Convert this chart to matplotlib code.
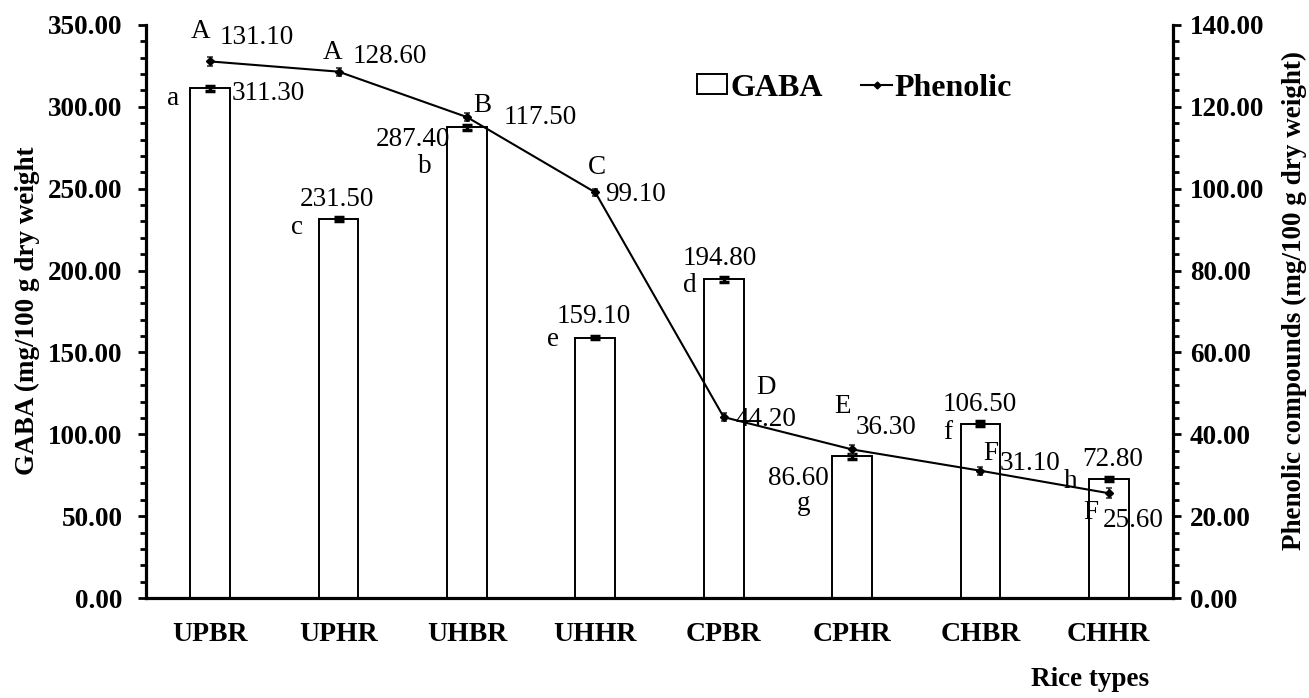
import matplotlib
matplotlib.use("Agg")
import matplotlib.pyplot as plt
from matplotlib.ticker import MultipleLocator, FormatStrFormatter
from matplotlib.patches import Patch
from matplotlib.lines import Line2D

plt.rcParams['font.family'] = ['Liberation Serif', 'DejaVu Serif']

# Data
rice_types = ["UPBR", "UPHR", "UHBR", "UHHR", "CPBR", "CPHR", "CHBR", "CHHR"]
gaba = [311.30, 231.50, 287.40, 159.10, 194.80, 86.60, 106.50, 72.80]
gaba_err = [1.5, 1.5, 1.5, 1.2, 1.5, 1.5, 1.5, 1.2]
gaba_letters = ["a", "c", "b", "e", "d", "g", "f", "h"]
phenolic = [131.10, 128.60, 117.50, 99.10, 44.20, 36.30, 31.10, 25.60]
phenolic_err = [1.0, 1.0, 1.0, 0.8, 1.0, 1.2, 1.0, 1.2]
phenolic_letters = ["A", "A", "B", "C", "D", "E", "F", "F"]

# Label placement (pixel offsets from each mark)
gaba_val_off = [(58, -5), (-2, 20), (-54, -12), (-2, 21), (-4, 21), (-54, -22), (-1, 19), (4, 19)]
gaba_let_off = [(-37, -10), (-42, -8), (-42, -39), (-42, -2), (-34, -6), (-48, -47), (-33, -9), (-38, -3)]
phen_let_off = [(-10, 30), (-6, 19), (15, 12), (2, 25), (42, 30), (-10, 43), (10, 17), (-18, -19)]
phen_val_off = [(47, 24), (51, 15), (73, 0), (40, -2), (42, -2), (34, 22), (50, 7), (24, -27)]

W, H = 1309, 698
fig = plt.figure(figsize=(W / 100, H / 100), dpi=100)
ax = fig.add_axes([146 / W, 1 - 598 / H, (1173 - 146) / W, (598 - 25) / H])
ax2 = ax.twinx()

x = list(range(len(rice_types)))

# GABA bars
ax.bar(x, gaba, width=0.31, color="white", edgecolor="black", linewidth=1.4, zorder=2)
ax.errorbar(x, gaba, yerr=gaba_err, fmt="none", ecolor="black", elinewidth=2.5,
            capsize=3.5, capthick=2.5, zorder=3)

# Phenolic line
ax2.errorbar(x, phenolic, yerr=phenolic_err, fmt="-", color="black", linewidth=1.5,
             marker="D", markersize=4, ecolor="#333333", elinewidth=1.2, capsize=2.5,
             capthick=1.2, zorder=4)

ax.set_xlim(-0.5, len(x) - 0.5)
ax.set_ylim(0, 350)
ax2.set_ylim(0, 140)

ax.yaxis.set_major_locator(MultipleLocator(50))
ax.yaxis.set_minor_locator(MultipleLocator(10))
ax2.yaxis.set_major_locator(MultipleLocator(20))
ax2.yaxis.set_minor_locator(MultipleLocator(4))
ax.yaxis.set_major_formatter(FormatStrFormatter("%.2f"))
ax2.yaxis.set_major_formatter(FormatStrFormatter("%.2f"))

for a in (ax, ax2):
    a.spines["top"].set_visible(False)
    for s in ("left", "right", "bottom"):
        a.spines[s].set_linewidth(2.3)

ax.spines["right"].set_visible(False)
ax2.spines["left"].set_visible(False)
ax2.spines["bottom"].set_visible(False)

ax.tick_params(axis="y", which="major", direction="out", length=6, width=2, pad=11,
               labelsize=19.5)
ax.tick_params(axis="y", which="minor", direction="out", length=4.5, width=2)
ax2.tick_params(axis="y", which="major", direction="out", length=6, width=2, pad=6,
                labelsize=19.5)
ax2.tick_params(axis="y", which="minor", direction="out", length=4.5, width=2)
for lab in ax.get_yticklabels() + ax2.get_yticklabels():
    lab.set_fontweight("bold")

ax.set_xticks(x)
ax.set_xticklabels(rice_types, fontsize=20, fontweight="bold")
ax.tick_params(axis="x", length=0, pad=17)

# Value and significance labels
for i in x:
    ax.annotate(f"{gaba[i]:.2f}", (i, gaba[i]), xytext=gaba_val_off[i],
                textcoords="offset pixels", ha="center", va="center", fontsize=19.5, zorder=5)
    ax.annotate(gaba_letters[i], (i, gaba[i]), xytext=gaba_let_off[i],
                textcoords="offset pixels", ha="center", va="center", fontsize=19.5, zorder=5)
    ax2.annotate(phenolic_letters[i], (i, phenolic[i]), xytext=phen_let_off[i],
                 textcoords="offset pixels", ha="center", va="center", fontsize=19.5, zorder=5)
    ax2.annotate(f"{phenolic[i]:.2f}", (i, phenolic[i]), xytext=phen_val_off[i],
                 textcoords="offset pixels", ha="center", va="center", fontsize=19.5, zorder=5)

# Axis titles
fig.text(27 / W, 1 - 311 / H, "GABA (mg/100 g dry weight", rotation=90,
         ha="center", va="center", fontsize=19.5, fontweight="bold")
fig.text(1294 / W, 1 - 300 / H, "Phenolic compounds (mg/100 g dry weight)", rotation=90,
         ha="center", va="center", fontsize=19.5, fontweight="bold")
fig.text(1090 / W, 1 - 680 / H, "Rice types", ha="center", va="center",
         fontsize=19.5, fontweight="bold")

# Legend
handles = [
    Patch(facecolor="white", edgecolor="black", linewidth=1.4, label="GABA"),
    Line2D([0], [0], color="black", linewidth=1.5, marker="D", markersize=3.5,
           label="Phenolic"),
]
leg = ax2.legend(handles=handles, ncol=2, loc="center left",
                 bbox_to_anchor=(697 / W, 1 - 88 / H), bbox_transform=fig.transFigure,
                 frameon=False, borderpad=0, borderaxespad=0, handlelength=0.95,
                 handleheight=0.6, handletextpad=0.1, columnspacing=1.2,
                 prop={"size": 23, "weight": "bold"})

fig.savefig("out.png", dpi=100)
